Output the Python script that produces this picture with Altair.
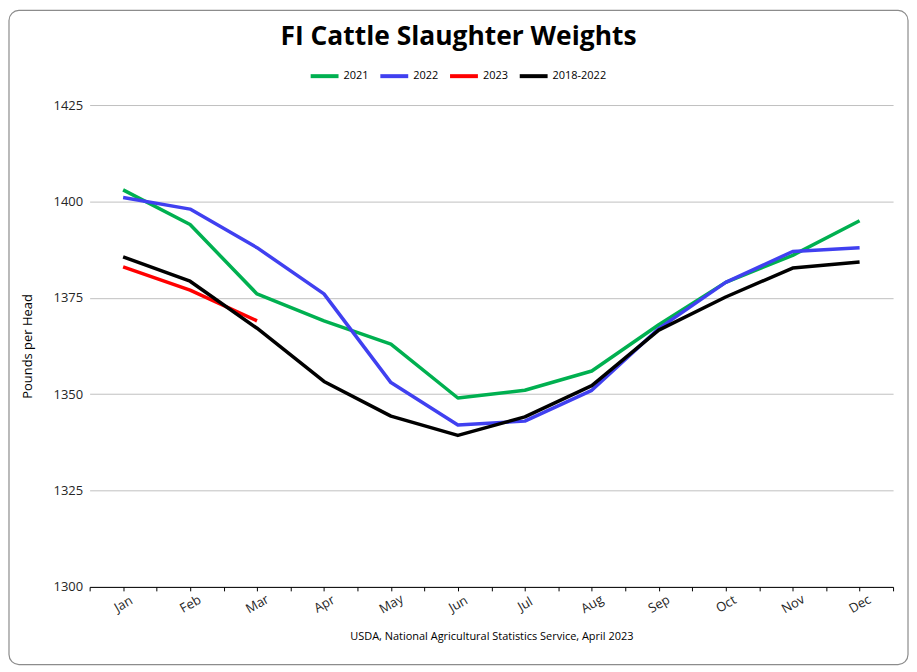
import altair as alt
import pandas as pd

months = ["Jan", "Feb", "Mar", "Apr", "May", "Jun", "Jul", "Aug", "Sep", "Oct", "Nov", "Dec"]
y2021 = [1403, 1394, 1376, 1369, 1363, 1349, 1351, 1356, 1368, 1379, 1386, 1395]
y2022 = [1401, 1398, 1388, 1376, 1353, 1342, 1343, 1351, 1367, 1379, 1387, 1388]
y2023 = [1383, 1377, 1369]
y2018_2022 = [1385.6, 1379.3, 1367.1, 1353.3, 1344.3, 1339.3, 1344.1, 1352.2, 1366.6, 1375.2, 1382.7, 1384.3]

series_names = ["2021", "2022", "2023", "2018-2022"]
series_values = [y2021, y2022, y2023, y2018_2022]
series_colors = ["#00B050", "#4040F0", "#FF0000", "#000000"]
y_ticks = [1300, 1325, 1350, 1375, 1400, 1425]

rows = []
for name, vals in zip(series_names, series_values):
    for i, v in enumerate(vals):
        rows.append({"series": name, "idx": i, "month": months[i], "value": v})
df = pd.DataFrame(rows)

W, H = 807, 484
PAD_L, PAD_T, PAD_R, PAD_B = 82, 96, 16, 79
FONT = "Open Sans"

tick_vals = [i / 2 - 0.5 for i in range(25)]
month_arr = "[" + ",".join("'" + m + "'" for m in months) + "]"
label_expr = f"datum.value % 1 == 0 ? {month_arr}[datum.value] : ''"

lines = alt.Chart(df).mark_line(strokeWidth=3.5, strokeJoin="round").encode(
    x=alt.X("idx:Q",
            scale=alt.Scale(domain=[-0.5, 11.5], nice=False, zero=False),
            axis=alt.Axis(values=tick_vals, labelExpr=label_expr, labelOverlap=False,
                          labelFlush=False, labelAngle=330, labelAlign="center",
                          labelBaseline="middle", labelPadding=13, tickSize=4,
                          tickColor="#000000", domainColor="#000000", domainWidth=1,
                          labelFont=FONT, labelFontSize=13, labelColor="#262626",
                          grid=False,
                          title="USDA, National Agricultural Statistics Service, April 2023",
                          titleFont=FONT, titleFontSize=11, titleFontWeight="normal",
                          titleColor="#000000", titleY=50, titleBaseline="middle")),
    y=alt.Y("value:Q",
            scale=alt.Scale(domain=[1300, 1425], nice=False, zero=False),
            axis=alt.Axis(values=y_ticks, format="d", domain=False, ticks=False,
                          labelPadding=7,
                          labelFont=FONT, labelFontSize=13, labelColor="#262626",
                          gridColor="#BFBFBF", gridWidth=1,
                          title="Pounds per Head", titleFont=FONT, titleFontSize=13,
                          titleFontWeight="normal", titleColor="#000000",
                          titleX=-62, titleBaseline="middle")),
    color=alt.Color("series:N",
                    scale=alt.Scale(domain=series_names, range=series_colors),
                    legend=alt.Legend(orient="none", legendX=220, legendY=-45,
                                      direction="horizontal", title=None,
                                      symbolType="stroke", symbolStrokeWidth=4,
                                      symbolSize=784, labelFont=FONT, labelFontSize=11,
                                      labelColor="#000000", columnPadding=3,
                                      labelOffset=3)),
)

border = alt.Chart(alt.Data(values=[{}])).mark_rect(
    fill=None, stroke="#8C8C8C", strokeWidth=1.2, cornerRadius=10
).encode(
    x=alt.value(-PAD_L + 1), x2=alt.value(W + PAD_R - 1),
    y=alt.value(-PAD_T + 1), y2=alt.value(H + PAD_B - 1),
)

chart = alt.layer(border, lines).properties(
    width=W, height=H,
    autosize=alt.AutoSizeParams(type="none"),
    padding={"left": PAD_L, "top": PAD_T, "right": PAD_R, "bottom": PAD_B},
    title=alt.TitleParams("FI Cattle Slaughter Weights", font=FONT, fontSize=26.5,
                          fontWeight="bold", color="#000000", anchor="middle",
                          frame="bounds", offset=10, dy=51),
).configure_view(stroke=None)

chart.save("out.html", embed_options={"renderer": "svg", "actions": False})
